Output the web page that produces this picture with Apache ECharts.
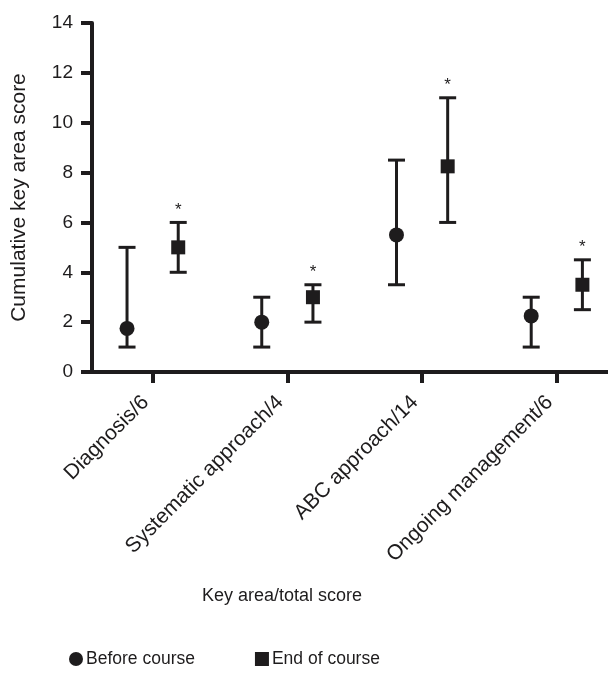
<!DOCTYPE html>
<html>
<head>
<meta charset="utf-8">
<script src="https://cdn.jsdelivr.net/npm/echarts@6/dist/echarts.min.js"></script>
<style>
html,body{margin:0;padding:0;background:#fff;}
#chart{width:608px;height:678px;}
</style>
</head>
<body>
<div id="chart"></div>
<script>
const categories = ['Diagnosis/6', 'Systematic approach/4', 'ABC approach/14', 'Ongoing management/6'];
const beforeMedian = [1.75, 2, 5.5, 2.25];
const beforeLow = [1, 1, 3.5, 1];
const beforeHigh = [5, 3, 8.5, 3];
const endMedian = [5, 3, 8.25, 3.5];
const endLow = [4, 2, 6, 2.5];
const endHigh = [6, 3.5, 11, 4.5];
const endSignificant = [true, true, true, true];
const yTicks = [0, 2, 4, 6, 8, 10, 12, 14];

const OFFSET = 0.19;
const INK = '#1e1c1d';
const FONT = 'Liberation Sans, Arial, Helvetica, sans-serif';

const chart = echarts.init(document.getElementById('chart'), null, {renderer: 'canvas'});

function errData(low, high, sign) {
  return categories.map((c, i) => [i + sign * OFFSET, low[i], high[i]]);
}
function ptData(med, sign) {
  return categories.map((c, i) => [i + sign * OFFSET, med[i]]);
}

function renderErr(star) {
  return function (params, api) {
    const x = api.value(0);
    const lo = api.coord([x, api.value(1)]);
    const hi = api.coord([x, api.value(2)]);
    const half = 8.5;
    const style = {stroke: INK, lineWidth: 3};
    const children = [
      {type: 'line', shape: {x1: lo[0], y1: lo[1], x2: hi[0], y2: hi[1]}, style: style},
      {type: 'line', shape: {x1: lo[0] - half, y1: lo[1], x2: lo[0] + half, y2: lo[1]}, style: style},
      {type: 'line', shape: {x1: hi[0] - half, y1: hi[1], x2: hi[0] + half, y2: hi[1]}, style: style}
    ];
    if (star && endSignificant[params.dataIndex]) {
      children.push({type: 'text', x: hi[0], y: hi[1] - 4,
        style: {text: '*', fill: INK, font: '17px ' + FONT, align: 'center', verticalAlign: 'bottom'}});
    }
    return {type: 'group', children: children};
  };
}

const option = {
  backgroundColor: '#ffffff',
  animation: false,
  grid: {left: 92, right: 0, top: 23, bottom: 306, containLabel: false},
  xAxis: {
    type: 'value',
    min: -0.45,
    max: 3.38,
    splitLine: {show: false},
    axisLine: {show: true, onZero: false, lineStyle: {color: INK, width: 4}},
    axisTick: {show: true, customValues: [0, 1, 2, 3], length: 11, lineStyle: {color: INK, width: 4}},
    axisLabel: {
      customValues: [0, 1, 2, 3],
      formatter: v => categories[Math.round(v)],
      rotate: 45,
      fontSize: 21,
      fontFamily: FONT,
      color: INK,
      margin: 20,
      padding: [0, 10, 0, 0]
    }
  },
  yAxis: {
    type: 'value',
    min: 0,
    max: 14,
    interval: 2,
    name: 'Cumulative key area score',
    nameLocation: 'middle',
    nameGap: 62,
    nameTextStyle: {fontSize: 21, fontFamily: FONT, color: INK},
    splitLine: {show: false},
    axisLine: {show: true, onZero: false, lineStyle: {color: INK, width: 4}},
    axisTick: {show: true, length: 11, lineStyle: {color: INK, width: 4}},
    axisLabel: {fontSize: 19, fontFamily: FONT, color: INK, margin: 19,
      formatter: v => String(yTicks[yTicks.indexOf(v)])}
  },
  legend: {
    left: 64,
    top: 645,
    itemGap: 60,
    itemWidth: 14,
    itemHeight: 14,
    textStyle: {fontSize: 17.5, fontFamily: FONT, color: INK, padding: [0, 0, 0, -2]},
    data: [{name: 'Before course', icon: 'circle'}, {name: 'End of course', icon: 'rect'}]
  },
  graphic: [{
    type: 'text', left: 202, top: 587,
    style: {text: 'Key area/total score', font: '18px ' + FONT, fill: INK}
  }],
  series: [
    {type: 'custom', name: 'beforeErr', renderItem: renderErr(false), data: errData(beforeLow, beforeHigh, -1),
      encode: {x: 0, y: [1, 2]}, z: 2, silent: true},
    {type: 'custom', name: 'endErr', renderItem: renderErr(true), data: errData(endLow, endHigh, 1),
      encode: {x: 0, y: [1, 2]}, z: 2, silent: true},
    {type: 'scatter', name: 'Before course', symbol: 'circle', symbolSize: 15,
      itemStyle: {color: INK, opacity: 1}, data: ptData(beforeMedian, -1), z: 5},
    {type: 'scatter', name: 'End of course', symbol: 'rect', symbolSize: 14,
      itemStyle: {color: INK, opacity: 1}, data: ptData(endMedian, 1), z: 5}
  ]
};
chart.setOption(option);
</script>
</body>
</html>
